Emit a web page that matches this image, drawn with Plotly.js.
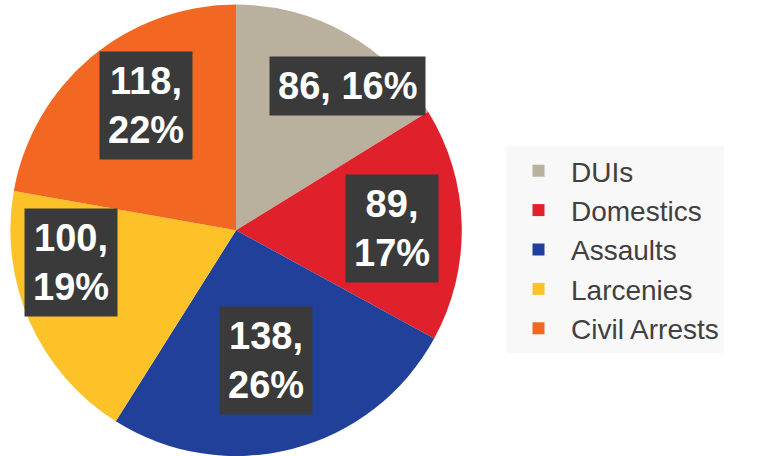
<!DOCTYPE html>
<html>
<head>
<meta charset="utf-8">
<script src="https://cdn.plot.ly/plotly-3.0.1.min.js"></script>
<style>
  html, body { margin: 0; padding: 0; background: #fff; }
  #chart { width: 782px; height: 456px; }
</style>
</head>
<body>
<div id="chart"></div>
<script>
// données du graphique
var categories = ["DUIs", "Domestics", "Assaults", "Larcenies", "Civil Arrests"];
var counts = [86, 89, 138, 100, 118];
var colors = ["#B9B09D", "#E0202A", "#21409A", "#FDC228", "#F26823"];

var total = counts.reduce(function (a, b) { return a + b; }, 0);

var W = 782, H = 456;
// centres des étiquettes (en pixels), comme dans l'original
var labelCenters = [[347, 86], [392, 228], [266, 360], [71, 262], [146, 106]];

var trace = {
    type: "pie",
    labels: categories,
    values: counts,
    sort: false,
    direction: "clockwise",
    rotation: 0,
    marker: { colors: colors, line: { width: 0 } },
    textinfo: "none",
    hoverinfo: "label+value+percent",
    domain: { x: [0.0128, 0.591], y: [0, 0.99] }
};

var annotations = counts.map(function (v, i) {
    var pct = Math.round(v / total * 100);
    var txt = i === 0 ? v + ", " + pct + "%" : v + ",<br>" + pct + "%";
    return {
        xref: "paper", yref: "paper",
        x: labelCenters[i][0] / W, y: 1 - labelCenters[i][1] / H,
        xanchor: "center", yanchor: "middle",
        text: "<b>" + txt + "</b>",
        showarrow: false,
        align: "center",
        bgcolor: "#3A3A3A",
        borderpad: 8,
        font: { family: "Liberation Sans, Arial, sans-serif", size: 38, color: "#ffffff" }
    };
});

var layout = {
    width: W,
    height: H,
    margin: { l: 0, r: 0, t: 0, b: 0 },
    paper_bgcolor: "#ffffff",
    showlegend: true,
    legend: {
        x: 506 / W, y: 1 - 146 / H,
        xanchor: "left", yanchor: "top",
        bgcolor: "#F8F8F8",
        font: { family: "Liberation Sans, Arial, sans-serif", size: 28, color: "#404040" },
        itemwidth: 55
    },
    annotations: annotations
};

Plotly.newPlot("chart", [trace], layout, { displayModeBar: false });
</script>
</body>
</html>
